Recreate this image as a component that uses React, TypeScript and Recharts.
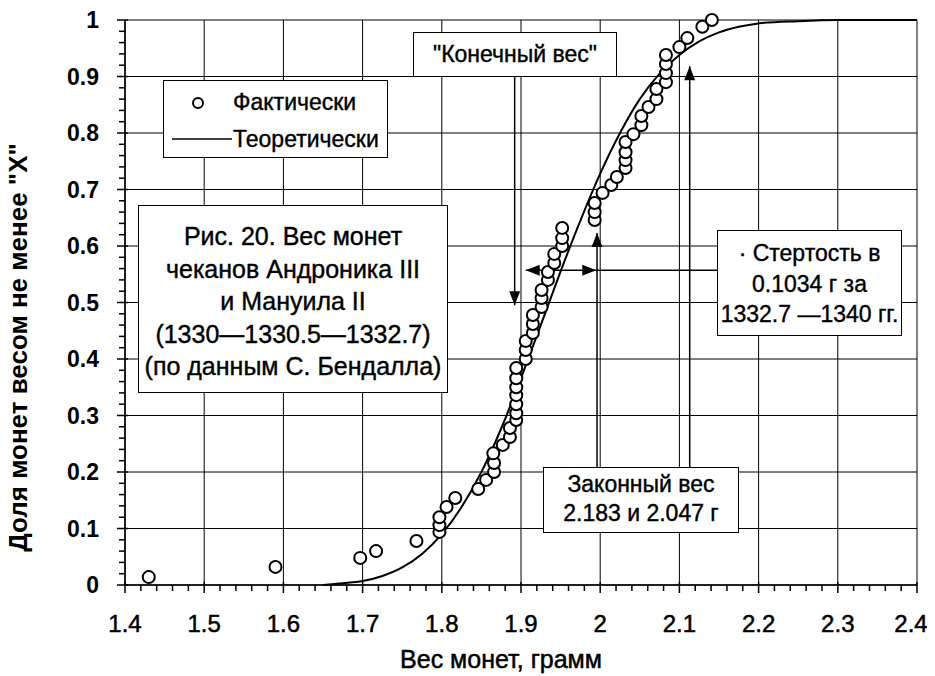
import {
  ComposedChart,
  Scatter,
  Line,
  XAxis,
  YAxis,
  CartesianGrid,
  ReferenceLine,
  Label,
} from 'recharts';

// measured coin weights (g) and the share of coins weighing at least that much
const factWeights = [
  1.43, 1.59, 1.697, 1.717, 1.768, 1.797, 1.797, 1.797, 1.806, 1.817, 1.846, 1.856,
  1.866, 1.866, 1.865, 1.877, 1.886, 1.886, 1.894, 1.894, 1.894, 1.894, 1.894, 1.894,
  1.894, 1.906, 1.906, 1.906, 1.915, 1.915, 1.915, 1.926, 1.926, 1.926, 1.934, 1.934,
  1.942, 1.942, 1.952, 1.952, 1.952, 1.993, 1.993, 1.993, 2.003, 2.014, 2.021, 2.032,
  2.032, 2.032, 2.032, 2.042, 2.052, 2.052, 2.061, 2.071, 2.071, 2.083, 2.083, 2.083,
  2.083, 2.1, 2.11, 2.129, 2.141,
];
const factShares = [
  0.014, 0.032, 0.048, 0.06, 0.078, 0.094, 0.106, 0.12, 0.138, 0.154, 0.17, 0.186,
  0.2, 0.216, 0.233, 0.248, 0.262, 0.278, 0.292, 0.304, 0.32, 0.336, 0.35, 0.366,
  0.384, 0.4, 0.416, 0.432, 0.446, 0.462, 0.478, 0.492, 0.508, 0.522, 0.54, 0.554,
  0.57, 0.586, 0.6, 0.614, 0.632, 0.646, 0.66, 0.676, 0.694, 0.708, 0.722, 0.738,
  0.752, 0.766, 0.784, 0.798, 0.814, 0.83, 0.846, 0.86, 0.878, 0.89, 0.906, 0.922,
  0.938, 0.952, 0.968, 0.988, 1.0,
];

// theoretical curve
const curveWeights = [
  1.65, 1.675, 1.7, 1.725, 1.75, 1.775, 1.8, 1.825, 1.85, 1.875, 1.9, 1.925, 1.95,
  1.975, 2.0, 2.025, 2.05, 2.075, 2.1, 2.125, 2.15, 2.175, 2.2, 2.25, 2.3, 2.4,
];
const curveShares = [
  0, 0.003, 0.007, 0.016, 0.031, 0.055, 0.09, 0.138, 0.2, 0.277, 0.366, 0.46, 0.555,
  0.645, 0.728, 0.8, 0.86, 0.905, 0.938, 0.962, 0.978, 0.988, 0.994, 0.998, 1.0, 1.0,
];

const xMajor = [1.4, 1.5, 1.6, 1.7, 1.8, 1.9, 2, 2.1, 2.2, 2.3, 2.4];
const yMajor = [0, 0.1, 0.2, 0.3, 0.4, 0.5, 0.6, 0.7, 0.8, 0.9, 1];

const factData = factWeights.map((x, i) => ({ x, y: factShares[i] }));
const curveData = curveWeights.map((x, i) => ({ x, y: curveShares[i] }));

// minor ticks every 0.02 between the labelled ones
const withMinor = (majors: number[]) => {
  const out: number[] = [];
  majors.forEach((m, i) => {
    out.push(m);
    if (i < majors.length - 1) {
      for (let k = 1; k < 5; k++) out.push(Number((m + k * 0.02).toFixed(2)));
    }
  });
  return out;
};
const xTicks = withMinor(xMajor);
const yTicks = withMinor(yMajor);
const isMajor = (v: number) => Math.abs(v * 10 - Math.round(v * 10)) < 1e-6;

const FONT = "'Liberation Sans', Arial, sans-serif";

function XTick(props: any) {
  const { x, y, payload } = props;
  const major = isMajor(payload.value);
  // keep the last label inside the picture
  const last = payload.value === xMajor[xMajor.length - 1];
  return (
    <g>
      <line x1={x} y1={y - (major ? 3 : 0)} x2={x} y2={y + (major ? 8 : 6)} stroke="#000" strokeWidth={1.5} />
      {major && (
        <text x={last ? x - 6 : x} y={y + 47} textAnchor="middle" fontFamily={FONT} fontSize={24} fill="#000" stroke="#000" strokeWidth={0.5}>
          {String(Math.round(payload.value * 10) / 10)}
        </text>
      )}
    </g>
  );
}

function YTick(props: any) {
  const { x, y, payload } = props;
  const major = isMajor(payload.value);
  return (
    <g>
      <line x1={x - (major ? 8 : 6)} y1={y} x2={x + (major ? 3 : 0)} y2={y} stroke="#000" strokeWidth={1.5} />
      {major && (
        <text x={x - 26} y={y} dy="0.36em" textAnchor="end" fontFamily={FONT} fontWeight="bold" fontSize={23} fill="#000">
          {String(Math.round(payload.value * 10) / 10)}
        </text>
      )}
    </g>
  );
}

const arrow = (heads: string[]) => (p: any) => {
  const { x1, y1, x2, y2 } = p;
  const a = Math.atan2(y2 - y1, x2 - x1);
  const head = (x: number, y: number, ang: number) => {
    const L = 14;
    const W = 5.5;
    const bx = x - L * Math.cos(ang);
    const by = y - L * Math.sin(ang);
    return (
      <polygon
        points={`${x},${y} ${bx + W * Math.sin(ang)},${by - W * Math.cos(ang)} ${bx - W * Math.sin(ang)},${by + W * Math.cos(ang)}`}
        fill="#000"
      />
    );
  };
  return (
    <g>
      <line x1={x1} y1={y1} x2={x2} y2={y2} stroke="#000" strokeWidth={1.5} />
      {heads.includes('end') && head(x2, y2, a)}
      {heads.includes('start') && head(x1, y1, a + Math.PI)}
    </g>
  );
};

const box: React.CSSProperties = {
  position: 'absolute',
  background: '#fff',
  border: '1.5px solid #000',
  boxSizing: 'border-box',
  fontFamily: FONT,
  fontSize: 23,
  color: '#000',
  textAlign: 'center',
  WebkitTextStroke: '0.4px #000',
};

export default function App() {
  return (
    <div style={{ position: 'relative', width: 935, height: 676, margin: '-8px 0 0 -8px', background: '#fff' }}>
      <ComposedChart width={935} height={676} margin={{ top: 20, right: 18, bottom: 1, left: 25 }}>
        <CartesianGrid stroke="#000" strokeWidth={1} verticalValues={xMajor} horizontalValues={yMajor} />
        <XAxis
          type="number"
          dataKey="x"
          domain={[1.4, 2.4]}
          ticks={xTicks}
          interval={0}
          height={90}
          tickSize={0}
          tickMargin={0}
          tickLine={false}
          axisLine={{ stroke: '#000', strokeWidth: 1.5 }}
          tick={<XTick />}
        >
          <Label
            content={(p: any) => {
              const vb = p.viewBox;
              return (
                <text x={vb.x + vb.width / 2 - 20} y={vb.y + 83} textAnchor="middle" fontFamily={FONT} fontSize={25} fill="#000" stroke="#000" strokeWidth={0.5}>
                  Вес монет, грамм
                </text>
              );
            }}
          />
        </XAxis>
        <YAxis
          type="number"
          dataKey="y"
          domain={[0, 1]}
          ticks={yTicks}
          interval={0}
          width={100}
          tickSize={0}
          tickMargin={0}
          tickLine={false}
          axisLine={{ stroke: '#000', strokeWidth: 1.5 }}
          tick={<YTick />}
        >
          <Label
            content={(p: any) => {
              const vb = p.viewBox;
              const cx = vb.x + 2;
              const cy = vb.y + vb.height / 2 + 45;
              return (
                <text x={cx} y={cy} transform={`rotate(-90 ${cx} ${cy})`} textAnchor="middle" fontFamily={FONT} fontWeight="bold" fontSize={26} fill="#000">
                  Доля монет весом не менее "X"
                </text>
              );
            }}
          />
        </YAxis>

        <ReferenceLine segment={[{ x: 1.892, y: 0.9 }, { x: 1.892, y: 0.495 }]} shape={arrow(['end'])} />
        <ReferenceLine segment={[{ x: 1.996, y: 0.2 }, { x: 1.996, y: 0.623 }]} shape={arrow(['end'])} />
        <ReferenceLine segment={[{ x: 2.113, y: 0.2 }, { x: 2.113, y: 0.918 }]} shape={arrow(['end'])} />
        <ReferenceLine segment={[{ x: 1.906, y: 0.557 }, { x: 1.995, y: 0.557 }]} shape={arrow(['start', 'end'])} />
        <ReferenceLine segment={[{ x: 1.995, y: 0.557 }, { x: 2.15, y: 0.557 }]} shape={arrow([])} />

        <Scatter
          data={factData}
          isAnimationActive={false}
          shape={(p: any) => <circle cx={p.cx} cy={p.cy} r={6} fill="#fff" stroke="#000" strokeWidth={2} />}
        />
        <Line
          data={curveData}
          dataKey="y"
          type="monotone"
          dot={false}
          stroke="#000"
          strokeWidth={2}
          isAnimationActive={false}
        />
      </ComposedChart>

      {/* legend */}
      <div style={{ ...box, left: 163, top: 80, width: 225, height: 78, textAlign: 'left' }}>
        <svg width={60} height={76} style={{ position: 'absolute', left: 8, top: 0 }}>
          <circle cx={26} cy={22} r={5} fill="#fff" stroke="#000" strokeWidth={2} />
          <line x1={0} y1={58} x2={60} y2={58} stroke="#000" strokeWidth={1.5} />
        </svg>
        <div style={{ position: 'absolute', left: 69, top: 8 }}>Фактически</div>
        <div style={{ position: 'absolute', left: 69, top: 45 }}>Теоретически</div>
      </div>

      <div style={{ ...box, left: 138, top: 205, width: 310, height: 188, paddingTop: 14, lineHeight: '32.5px', fontSize: 25 }}>
        Рис. 20. Вес монет
        <br />
        чеканов Андроника III
        <br />
        и Мануила II
        <br />
        (1330—1330.5—1332.7)
        <br />
        (по данным С. Бендалла)
      </div>

      <div style={{ ...box, left: 413, top: 32, width: 204, height: 45, lineHeight: '43px' }}>"Конечный вес"</div>

      <div style={{ ...box, left: 543, top: 467, width: 196, height: 66, paddingTop: 2, lineHeight: '29px' }}>
        Законный вес
        <br />
        2.183 и 2.047 г
      </div>

      <div style={{ ...box, left: 717, top: 230, width: 185, height: 106, paddingTop: 7, lineHeight: '30.5px' }}>
        · Стертость в
        <br />
        0.1034 г за
        <br />
        1332.7 —1340 гг.
      </div>
    </div>
  );
}
